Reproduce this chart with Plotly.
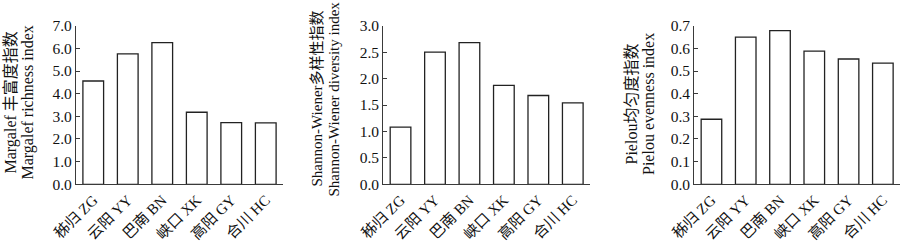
import plotly.graph_objects as go

sites = ["秭归 ZG", "云阳 YY", "巴南 BN", "峡口 XK", "高阳 GY", "合川 HC"]
margalef = [4.56, 5.76, 6.25, 3.18, 2.72, 2.71]
shannon = [1.08, 2.50, 2.68, 1.87, 1.68, 1.54]
pielou = [0.287, 0.650, 0.678, 0.588, 0.553, 0.535]

titles_cn = ["Margalef 丰富度指数", "Shannon-Wiener多样性指数", "Pielou均匀度指数"]
titles_en = ["Margalef richness index", "Shannon-Wiener diversity index", "Pielou evenness index"]
yranges = [[0, 7], [0, 3], [0, 0.7]]
ydticks = [1.0, 0.5, 0.1]

W, H = 900, 243
xdoms_px = [(76, 283), (383.3, 590), (694.3, 900)]
ytop_px, ybot_px = 25.7, 184.3
t1_x_px = [10.5, 316.5, 630.5]
t2_x_px = [27.5, 333.5, 648]
title_y_px = [103, 99, 104]
title_size = [16, 15, 16]

FONT = "Liberation Serif, 'Times New Roman', 'Noto Sans CJK SC', serif"
AXC = "#3a3a3a"

fig = go.Figure()
series = [margalef, shannon, pielou]
for i, vals in enumerate(series):
    xa = "x" if i == 0 else f"x{i+1}"
    ya = "y" if i == 0 else f"y{i+1}"
    fig.add_trace(go.Bar(x=sites, y=vals, xaxis=xa, yaxis=ya,
                         marker=dict(color="white", line=dict(color="#222222", width=1.3)),
                         showlegend=False))
    xkey = "xaxis" if i == 0 else f"xaxis{i+1}"
    ykey = "yaxis" if i == 0 else f"yaxis{i+1}"
    x0, x1 = xdoms_px[i]
    fig.layout[xkey] = dict(domain=[x0 / W, min(x1 / W, 1.0)], anchor=ya,
                            automargin=False,
                            showline=True, linecolor=AXC, linewidth=1.3,
                            ticks="", tickangle=-45, showgrid=False,
                            tickfont=dict(family=FONT, size=15, color="#111"))
    fig.layout[ykey] = dict(domain=[1 - ybot_px / H, 1 - ytop_px / H], anchor=xa,
                            automargin=False,
                            range=yranges[i], dtick=ydticks[i], tick0=0,
                            tickformat=".1f", showline=True, linecolor=AXC,
                            linewidth=1.3, ticks="inside", ticklen=4,
                            tickcolor=AXC, tickwidth=1.2, showgrid=False,
                            zeroline=False,
                            tickfont=dict(family=FONT, size=15.5, color="#111"))
    for tx, txt in ((t1_x_px[i], titles_cn[i]), (t2_x_px[i], titles_en[i])):
        fig.add_annotation(x=tx / W, y=1 - title_y_px[i] / H,
                           xref="paper", yref="paper", text=txt,
                           textangle=-90, showarrow=False, xanchor="center",
                           yanchor="middle", align="center",
                           font=dict(family=FONT, size=title_size[i], color="#111"))

fig.update_layout(template="none", width=W, height=H,
                  margin=dict(l=0, r=0, t=0, b=0, autoexpand=False),
                  paper_bgcolor="white", plot_bgcolor="white", bargap=0.4)
fig.write_html("out.html")
